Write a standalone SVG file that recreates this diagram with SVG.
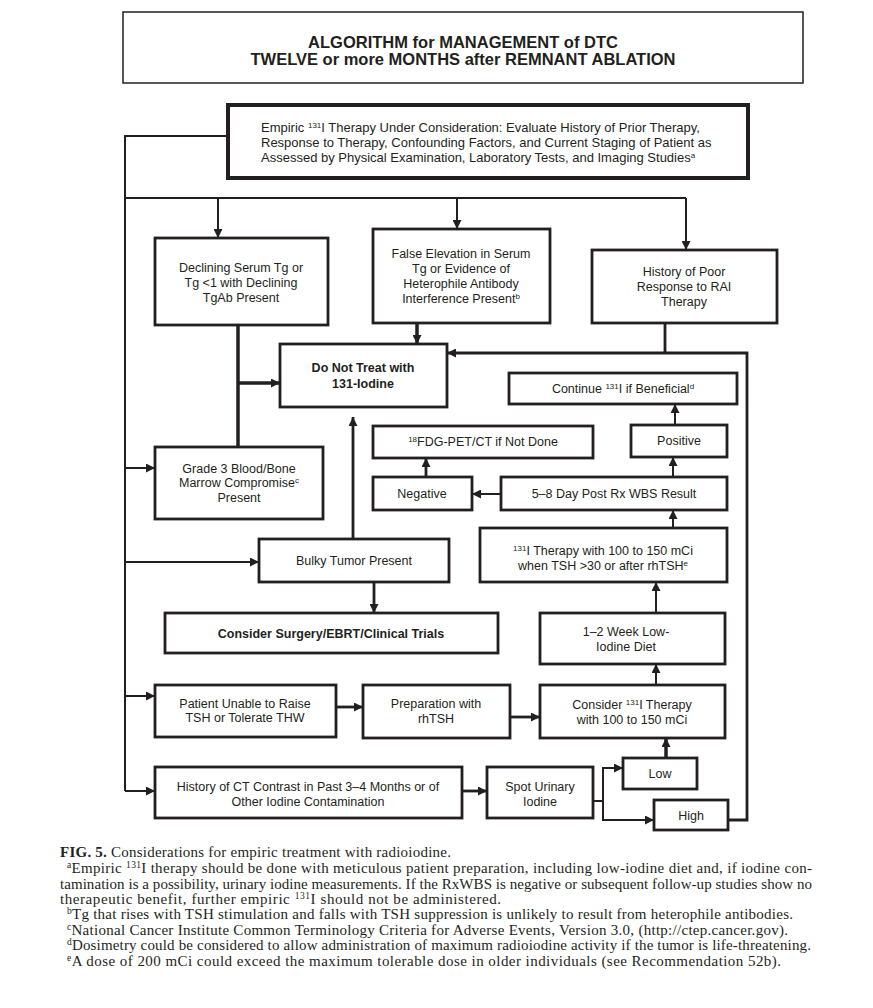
<svg xmlns="http://www.w3.org/2000/svg" width="873" height="1008" viewBox="0 0 873 1008">
<style>
.box{fill:#fff;stroke:#231f20;stroke-width:2.8}
.t{font-family:"Liberation Sans",Arial,sans-serif;font-size:12.5px;fill:#231f20;text-anchor:middle}
.tl{font-family:"Liberation Sans",Arial,sans-serif;font-size:13px;fill:#231f20}
.b{font-weight:bold}
.sup{font-size:8px}
.c{fill:none;stroke:#231f20;stroke-width:2}
.k{fill:none;stroke:#231f20;stroke-width:3.5}
.m{fill:none;stroke:#231f20;stroke-width:2.8}
.fn{font-family:"Liberation Serif","Times New Roman",serif;font-size:15px;fill:#231f20}
.fs{font-size:9.5px}
</style>
<defs>
<marker id="ah" viewBox="0 0 10 10" refX="10" refY="5" markerWidth="9" markerHeight="9" markerUnits="userSpaceOnUse" orient="auto"><path d="M0,0 L10,5 L0,10 z" fill="#231f20"/></marker>
</defs>
<rect width="873" height="1008" fill="#fff"/>

<g id="connectors">
<path class="c" d="M228,136 H125 V791"/>
<path class="c" d="M125,198 H686"/>
<path class="c" d="M218,198 V238" marker-end="url(#ah)"/>
<path class="c" d="M457,198 V229" marker-end="url(#ah)"/>
<path class="c" d="M686,198 V250" marker-end="url(#ah)"/>
<path class="c" d="M125,468 H155" marker-end="url(#ah)"/>
<path class="c" d="M125,562 H259" marker-end="url(#ah)"/>
<path class="c" d="M125,696 H155" marker-end="url(#ah)"/>
<path class="c" d="M125,791 H155" marker-end="url(#ah)"/>
<path class="k" d="M238,325 V447"/>
<path class="k" d="M238,383 H280" marker-end="url(#ah)"/>
<path class="k" d="M417,323 V344" marker-end="url(#ah)"/>
<path class="m" d="M665,323 V353"/>
<path class="m" d="M728,820 H747 V353 H447" marker-end="url(#ah)"/>
<path class="m" d="M353,539 V417" marker-end="url(#ah)"/>
<path class="m" d="M374,582 V613" marker-end="url(#ah)"/>
<path class="m" d="M336,707 H363" marker-end="url(#ah)"/>
<path class="m" d="M510,717 H540" marker-end="url(#ah)"/>
<path class="c" d="M656,685 V664" marker-end="url(#ah)"/>
<path class="c" d="M656,613 V582" marker-end="url(#ah)"/>
<path class="c" d="M673,528 V510" marker-end="url(#ah)"/>
<path class="c" d="M673,477 V457" marker-end="url(#ah)"/>
<path class="c" d="M675,425 V404" marker-end="url(#ah)"/>
<path class="c" d="M501,494 H472" marker-end="url(#ah)"/>
<path class="m" d="M426,477 V458" marker-end="url(#ah)"/>
<path class="m" d="M462,791 H487" marker-end="url(#ah)"/>
<path class="c" d="M593,801 H603 V768 H623" marker-end="url(#ah)"/>
<path class="c" d="M603,801 V820 H654" marker-end="url(#ah)"/>
<path class="k" d="M666,758 V738" marker-end="url(#ah)"/>
</g>

<g id="title">
<rect x="123" y="12" width="680" height="71" fill="#fff" stroke="#231f20" stroke-width="1.5"/>
<text class="t b" x="463" y="48" style="font-size:16.5px">ALGORITHM for MANAGEMENT of DTC</text>
<text class="t b" x="463" y="65" style="font-size:16.5px">TWELVE or more MONTHS after REMNANT ABLATION</text>
</g>

<g id="empiric">
<rect x="228" y="105" width="520" height="73" fill="#fff" stroke="#231f20" stroke-width="4"/>
<text class="tl" x="261" y="132">Empiric <tspan class="sup" dy="-4">131</tspan><tspan dy="4">I Therapy Under Consideration:  Evaluate History of Prior Therapy,</tspan></text>
<text class="tl" x="261" y="147">Response to Therapy, Confounding Factors, and Current Staging of Patient as</text>
<text class="tl" x="261" y="162">Assessed by Physical Examination, Laboratory Tests, and Imaging Studies<tspan class="sup" dy="-4">a</tspan></text>
</g>

<g id="declining">
<rect class="box" x="155" y="238" width="173" height="87"/>
<text class="t" x="241" y="272">Declining Serum Tg or</text>
<text class="t" x="241" y="287">Tg &lt;1 with Declining</text>
<text class="t" x="241" y="302">TgAb Present</text>
</g>

<g id="false-elevation">
<rect class="box" x="373" y="229" width="177" height="94"/>
<text class="t" x="461" y="258">False Elevation in Serum</text>
<text class="t" x="461" y="273">Tg or Evidence of</text>
<text class="t" x="461" y="288">Heterophile Antibody</text>
<text class="t" x="461" y="303">Interference Present<tspan class="sup" dy="-4">b</tspan></text>
</g>

<g id="poor-response">
<rect class="box" x="592" y="250" width="185" height="73"/>
<text class="t" x="684" y="276">History of Poor</text>
<text class="t" x="684" y="291">Response to RAI</text>
<text class="t" x="684" y="306">Therapy</text>
</g>

<g id="do-not-treat">
<rect class="box" x="280" y="344" width="167" height="63"/>
<text class="t b" x="363" y="372">Do Not Treat with</text>
<text class="t b" x="363" y="388">131-Iodine</text>
</g>

<g id="continue">
<rect class="box" x="509" y="373" width="228" height="31"/>
<text class="t" x="623" y="393">Continue <tspan class="sup" dy="-4">131</tspan><tspan dy="4">I if Beneficial</tspan><tspan class="sup" dy="-4">d</tspan></text>
</g>

<g id="fdg">
<rect class="box" x="373" y="426" width="220" height="32"/>
<text class="t" x="483" y="446"><tspan class="sup" dy="-4">18</tspan><tspan dy="4">FDG-PET/CT if Not Done</tspan></text>
</g>

<g id="positive">
<rect class="box" x="631" y="425" width="96" height="32"/>
<text class="t" x="679" y="445">Positive</text>
</g>

<g id="negative">
<rect class="box" x="373" y="477" width="99" height="33"/>
<text class="t" x="422" y="498">Negative</text>
</g>

<g id="wbs">
<rect class="box" x="501" y="477" width="226" height="33"/>
<text class="t" x="614" y="498">5–8 Day Post Rx WBS Result</text>
</g>

<g id="grade3">
<rect class="box" x="155" y="447" width="168" height="72"/>
<text class="t" x="239" y="473">Grade 3 Blood/Bone</text>
<text class="t" x="239" y="487">Marrow Compromise<tspan class="sup" dy="-4">c</tspan></text>
<text class="t" x="239" y="502">Present</text>
</g>

<g id="therapy">
<rect class="box" x="480" y="528" width="247" height="54"/>
<text class="t" x="603" y="555"><tspan class="sup" dy="-4">131</tspan><tspan dy="4">I Therapy with 100 to 150 mCi</tspan></text>
<text class="t" x="603" y="570">when TSH &gt;30 or after rhTSH<tspan class="sup" dy="-4">e</tspan></text>
</g>

<g id="bulky">
<rect class="box" x="259" y="539" width="190" height="43"/>
<text class="t" x="354" y="565">Bulky Tumor Present</text>
</g>

<g id="surgery">
<rect class="box" x="165" y="613" width="333" height="40"/>
<text class="t b" x="331" y="638">Consider Surgery/EBRT/Clinical Trials</text>
</g>

<g id="diet">
<rect class="box" x="540" y="613" width="185" height="51"/>
<text class="t" x="626" y="636">1–2 Week Low-</text>
<text class="t" x="626" y="651">Iodine Diet</text>
</g>

<g id="unable">
<rect class="box" x="155" y="685" width="181" height="52"/>
<text class="t" x="245" y="708">Patient Unable to Raise</text>
<text class="t" x="245" y="722">TSH or Tolerate THW</text>
</g>

<g id="rhtsh">
<rect class="box" x="363" y="685" width="147" height="53"/>
<text class="t" x="436" y="708">Preparation with</text>
<text class="t" x="436" y="723">rhTSH</text>
</g>

<g id="consider">
<rect class="box" x="540" y="685" width="185" height="53"/>
<text class="t" x="632" y="709">Consider <tspan class="sup" dy="-4">131</tspan><tspan dy="4">I Therapy</tspan></text>
<text class="t" x="632" y="724">with 100 to 150 mCi</text>
</g>

<g id="low">
<rect class="box" x="623" y="758" width="74" height="31"/>
<text class="t" x="660" y="778">Low</text>
</g>

<g id="ct-contrast">
<rect class="box" x="155" y="767" width="307" height="51"/>
<text class="t" x="308" y="791">History of CT Contrast in Past 3–4 Months or of</text>
<text class="t" x="308" y="806">Other Iodine Contamination</text>
</g>

<g id="spot">
<rect class="box" x="487" y="767" width="106" height="51"/>
<text class="t" x="540" y="791">Spot Urinary</text>
<text class="t" x="540" y="806">Iodine</text>
</g>

<g id="high">
<rect class="box" x="654" y="800" width="74" height="30"/>
<text class="t" x="691" y="820">High</text>
</g>

<g id="caption">
<text class="fn" x="60" y="857" textLength="391" lengthAdjust="spacing"><tspan font-weight="bold">FIG. 5.</tspan>  Considerations for empiric treatment with radioiodine.</text>
<text class="fn" x="67" y="873" textLength="745" lengthAdjust="spacing"><tspan class="fs" dy="-5">a</tspan><tspan dy="5">Empiric </tspan><tspan class="fs" dy="-5">131</tspan><tspan dy="5">I therapy should be done with meticulous patient preparation, including low-iodine diet and, if iodine con-</tspan></text>
<text class="fn" x="60" y="889" textLength="752" lengthAdjust="spacing">tamination is a possibility, urinary iodine measurements. If the RxWBS is negative or subsequent follow-up studies show no</text>
<text class="fn" x="60" y="904" textLength="441" lengthAdjust="spacing">therapeutic benefit, further empiric <tspan class="fs" dy="-5">131</tspan><tspan dy="5">I should not be administered.</tspan></text>
<text class="fn" x="67" y="919" textLength="726" lengthAdjust="spacing"><tspan class="fs" dy="-5">b</tspan><tspan dy="5">Tg that rises with TSH stimulation and falls with TSH suppression is unlikely to result from heterophile antibodies.</tspan></text>
<text class="fn" x="67" y="935" textLength="721" lengthAdjust="spacing"><tspan class="fs" dy="-5">c</tspan><tspan dy="5">National Cancer Institute Common Terminology Criteria for Adverse Events, Version 3.0, (http://ctep.cancer.gov).</tspan></text>
<text class="fn" x="67" y="950" textLength="744" lengthAdjust="spacing"><tspan class="fs" dy="-5">d</tspan><tspan dy="5">Dosimetry could be considered to allow administration of maximum radioiodine activity if the tumor is life-threatening.</tspan></text>
<text class="fn" x="67" y="966" textLength="714" lengthAdjust="spacing"><tspan class="fs" dy="-5">e</tspan><tspan dy="5">A dose of 200 mCi could exceed the maximum tolerable dose in older individuals (see Recommendation 52b).</tspan></text>
</g>
</svg>
